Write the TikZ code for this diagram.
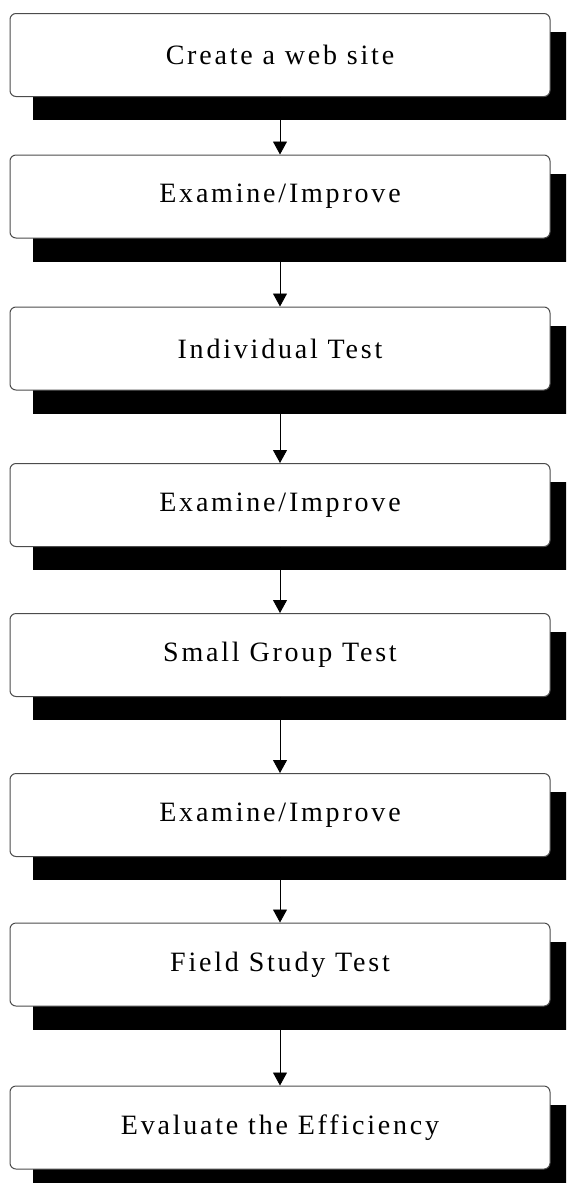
\documentclass[tikz,border=0pt]{standalone}
\usepackage{fontspec}
\setmainfont{Liberation Serif}[LetterSpace=10]
\usetikzlibrary{arrows.meta,backgrounds}

\tikzset{
  stepbox/.style={draw=black!70, line width=1pt, fill=white, rounded corners=6pt,
    minimum width=540pt, minimum height=83pt, inner sep=0pt,
    font=\fontsize{28}{33}\selectfont},
  boxshadow/.style={fill=black},
  flow/.style={draw=black, line width=0.9pt, -{Triangle[length=13pt,width=14pt]}}
}

\begin{document}
\begin{tikzpicture}[x=1pt,y=-1pt]
  \useasboundingbox (0,0) rectangle (566,1183);

  % process steps, top to bottom
  \node[stepbox] (s1) at (280,55)    {Create a web site};
  \node[stepbox] (s2) at (280,196.5) {Examine/Improve};
  \node[stepbox] (s3) at (280,348.5) {Individual Test};
  \node[stepbox] (s4) at (280,505)   {Examine/Improve};
  \node[stepbox] (s5) at (280,655)   {Small Group Test};
  \node[stepbox] (s6) at (280,815)   {Examine/Improve};
  \node[stepbox] (s7) at (280,964.5) {Field Study Test};
  \node[stepbox] (s8) at (280,1127.5){Evaluate the Efficiency};

  % solid black offset shadows behind each step
  \begin{scope}[on background layer]
    \clip (0,0) rectangle (566,1183);
    \foreach \n in {s1,s2,s3,s4,s5,s6,s7,s8}
      \fill[boxshadow] ([xshift=23pt,yshift=-19pt]\n.north west) rectangle ([xshift=23pt,yshift=-23pt]\n.south east);
  \end{scope}

  % connectors
  \draw[flow] (s1.south) -- (s2.north);
  \draw[flow] (s2.south) -- (s3.north);
  \draw[flow] (s3.south) -- (s4.north);
  \draw[flow] (s4.south) -- (s5.north);
  \draw[flow] (s5.south) -- (s6.north);
  \draw[flow] (s6.south) -- (s7.north);
  \draw[flow] (s7.south) -- (s8.north);
\end{tikzpicture}
\end{document}
